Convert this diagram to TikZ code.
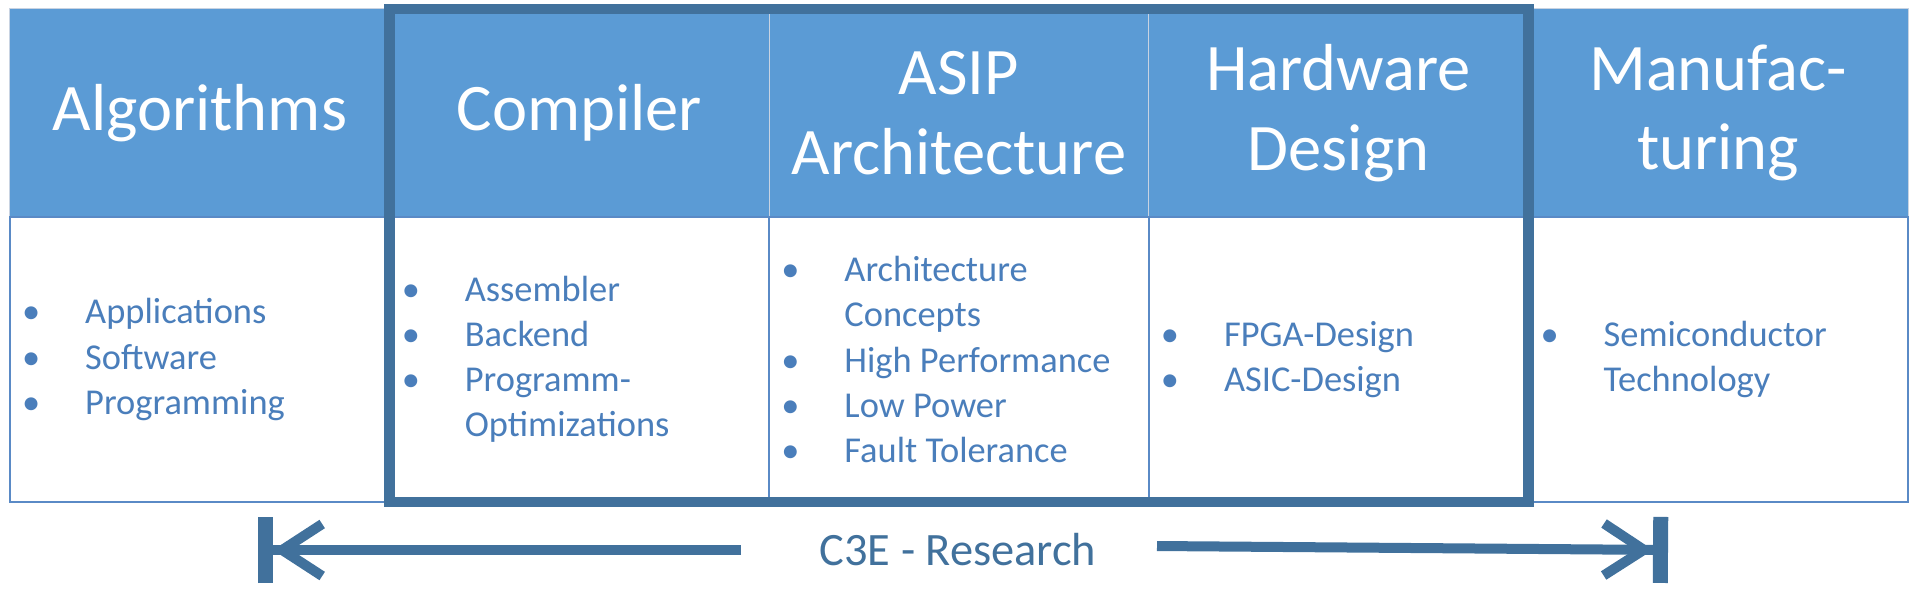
\documentclass[tikz,border=0pt]{standalone}
\usepackage{fontspec}
\setmainfont{Carlito}
\usetikzlibrary{arrows.meta,positioning}
\definecolor{HeadBlue}{HTML}{5B9BD5}
\definecolor{FrameBlue}{HTML}{41719C}
\definecolor{ItemBlue}{HTML}{4A7EBB}
\definecolor{CellLine}{HTML}{5A8AC6}
\definecolor{HeadLine}{HTML}{C8D3E2}
\newcommand{\itm}{\makebox[1.05cm][c]{•}\hspace{0.825cm}}
\newcommand{\cnt}{\hspace*{1.875cm}}

\begin{document}
\begin{tikzpicture}[x=0.025cm, y=-0.025cm,
  colhead/.style={fill=HeadBlue, draw=HeadLine, line width=0.7pt,
                  minimum width=9.49cm, minimum height=5.2cm, inner sep=0pt,
                  outer sep=0pt, text=white, align=center,
                  font=\fontsize{47.3}{56.5}\selectfont},
  colbody/.style={fill=white, draw=CellLine, line width=1.5pt,
                  minimum width=9.49cm, minimum height=7.125cm,
                  inner sep=0pt, outer sep=0pt},
  itemlist/.style={anchor=west, inner sep=0pt, align=left, text=ItemBlue,
                   font=\fontsize{25.9}{32.1}\selectfont},
  c3eframe/.style={draw=FrameBlue, line width=0.26cm},
  c3earrow/.style={draw=FrameBlue, line width=0.25cm,
    -{Straight Barb[length=1.0cm,width=1.3cm,sep=0pt]Bar[width=1.65cm,line width=0.375cm,sep=0pt]}}
]
\useasboundingbox (0,0) rectangle (1920,601);
% column heads
\node[colhead] (h1) at (199.8,113) {Algorithms};
\node[colhead] (h2) at (579.4,113) {Compiler};
\node[colhead] (h3) at (959,113) {ASIP\\Architecture};
\node[colhead] (h4) at (1338.6,113) {Hardware\\Design};
\node[colhead] (h5) at (1718.2,113) {Manufac-\\turing};
% column bodies
\node[colbody, below=0pt of h1] (b1) {};
\node[colbody, below=0pt of h2] (b2) {};
\node[colbody, below=0pt of h3] (b3) {};
\node[colbody, below=0pt of h4] (b4) {};
\node[colbody, below=0pt of h5] (b5) {};
\node[itemlist] (l1) at (b1.west)
  {\itm Applications\\ \itm Software\\ \itm Programming};
\node[itemlist] (l2) at (b2.west)
  {\itm Assembler\\ \itm Backend\\ \itm Programm-\\ \cnt Optimizations};
\node[itemlist] (l3) at (b3.west)
  {\itm Architecture\\ \cnt Concepts\\ \itm High Performance\\
   \itm Low Power\\ \itm Fault Tolerance};
\node[itemlist] (l4) at (b4.west)
  {\itm FPGA-Design\\ \itm ASIC-Design};
\node[itemlist] (l5) at (b5.west)
  {\itm Semiconductor\\ \cnt Technology};
% research frame
\draw[c3eframe] (h2.north west) rectangle (b4.south east);
\node[text=FrameBlue, anchor=base, font=\fontsize{33}{40}\selectfont]
  (res) at (958,565) {C3E - Research};
\coordinate (lstart) at (741,550);
\coordinate (lend) at (258,550);
\coordinate (rstart) at (1157,546);
\coordinate (rend) at (1668,550);
\draw[c3earrow] (lstart) -- (lend);
\draw[c3earrow] (rstart) -- (rend);
\end{tikzpicture}
\end{document}
